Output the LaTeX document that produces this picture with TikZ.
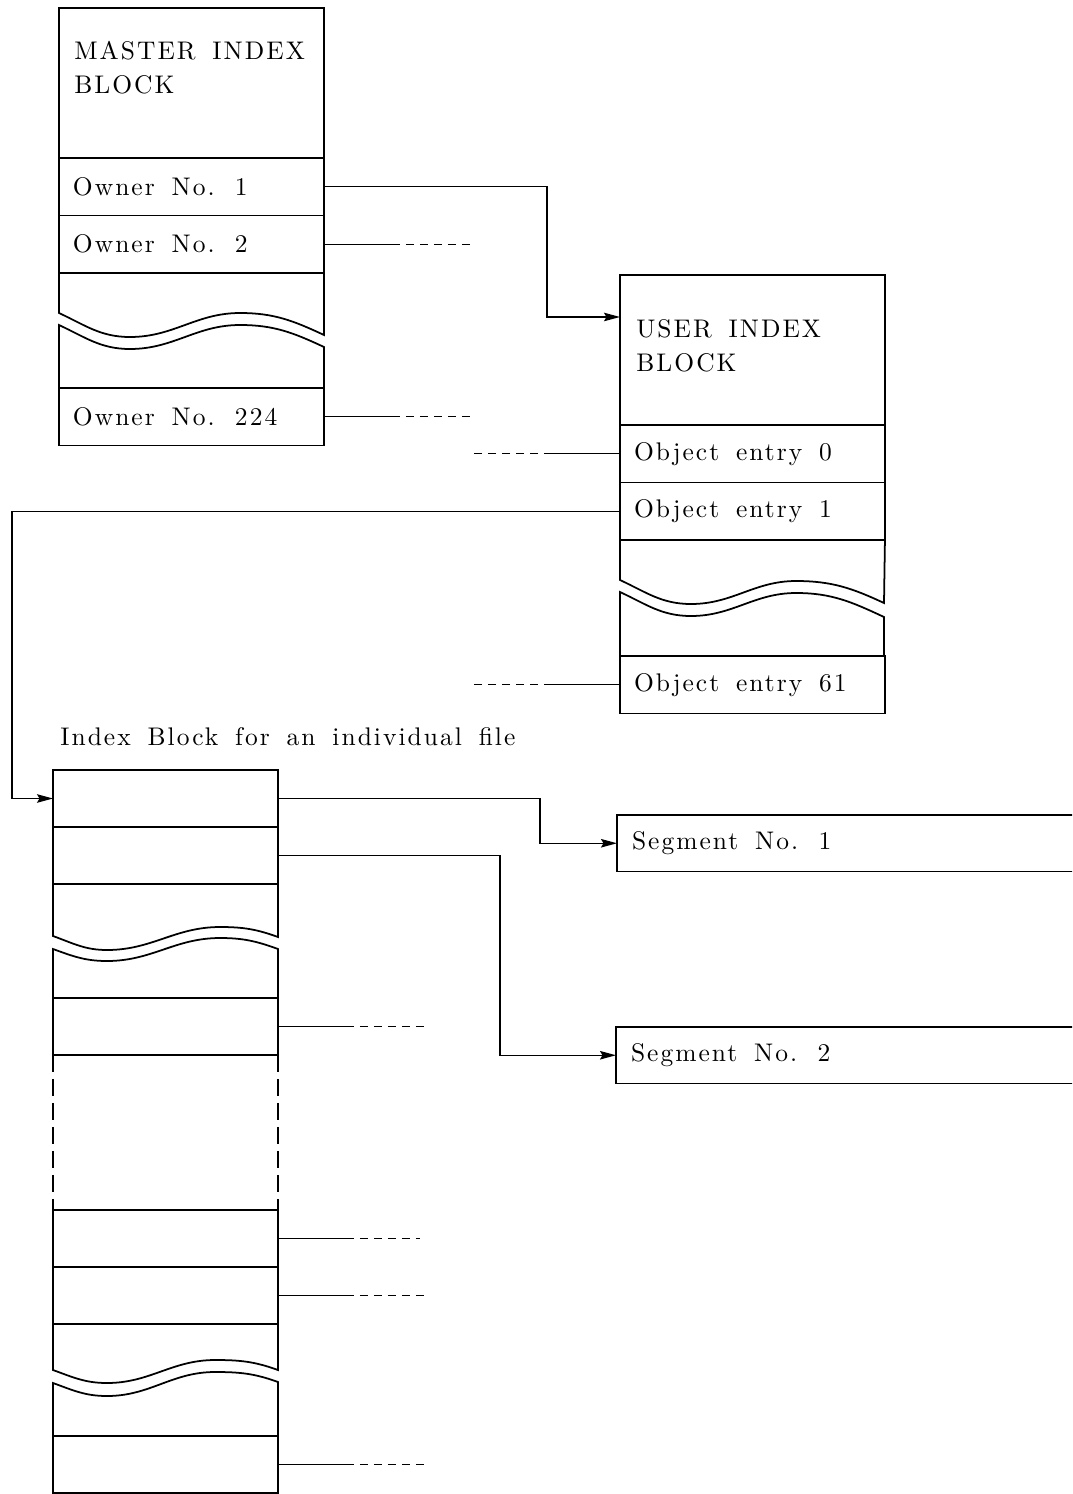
\documentclass[tikz,border=0pt]{standalone}
\usepackage{fontspec}
\setmainfont{lmroman10-regular}[Extension=.otf, LetterSpace=8, WordSpace=1.6]
\usetikzlibrary{arrows.meta, positioning}

\begin{document}
\begin{tikzpicture}[
    x=0.02cm, y=-0.02cm,
    every node/.style={font=\fontsize{14.5}{19.5}\selectfont},
    head/.style={draw, rectangle, line width=1pt, outer sep=0pt, anchor=north west, minimum width=5.3cm, minimum height=3cm},
    mrow/.style={draw, rectangle, line width=1pt, outer sep=0pt, anchor=north west, minimum height=1.15cm, inner xsep=0.28cm, inner ysep=0pt, text width=4.74cm, align=left, execute at begin node={\spaceskip=0pt\xspaceskip=0pt}},
    irow/.style={draw, rectangle, line width=1pt, outer sep=0pt, anchor=north west, minimum width=4.5cm, minimum height=1.14cm},
    seg/.style={draw, rectangle, line width=1pt, outer sep=0pt, anchor=north west, minimum height=1.13cm, inner xsep=0.3cm, inner ysep=0pt, text width=8.7cm, align=left, execute at begin node={\spaceskip=0pt\xspaceskip=0pt}},
    title/.style={anchor=north west, align=left, inner sep=0pt},
    brk/.style={line width=1pt},
    side/.style={line width=1pt, dash pattern=on 0.34cm off 0.14cm},
    stub/.style={line width=0.8pt, dash pattern=on 1.52cm off 0.12cm on 0.16cm off 0.12cm on 0.16cm off 0.12cm on 0.16cm off 0.12cm on 0.16cm off 0.12cm on 0.16cm off 5cm},
    arrow/.style={line width=0.8pt, -{Stealth[length=0.32cm, width=0.17cm, inset=0.05cm]}}
]
    \useasboundingbox (0,0) rectangle (1072,1494);
    \clip (0,0) rectangle (1072,1494);

    % Master index block
    \node[head] (master) at (59,8) {};
    \node[title] (mastertext) at (74,41) {MASTER INDEX\\BLOCK};
    \node[mrow, below=0pt of master] (owner1) {Owner No. 1};
    \node[mrow, below=0pt of owner1] (owner2) {Owner No. 2};
    \draw[brk] (owner2.south west) -- (59,313) to[out=-25,in=180] (130,337) to[out=0,in=180] (240,313) to[out=0,in=155] (324,335) -- (owner2.south east);
    \draw[brk] (59,388) -- (59,325) to[out=-25,in=180] (130,349) to[out=0,in=180] (240,325) to[out=0,in=155] (324,347) -- (324,388);
    \node[mrow] (owner224) at (59,388) {Owner No. 224};

    % User index block
    \node[head] (user) at (620,275) {};
    \node[title] (usertext) at (636,319) {USER INDEX\\BLOCK};
    \node[mrow, below=0pt of user] (obj0) {Object entry 0};
    \node[mrow, below=0pt of obj0] (obj1) {Object entry 1};
    \draw[brk] (obj1.south west) -- (620,580) to[out=-25,in=180] (691,604) to[out=0,in=180] (796,581) to[out=0,in=155] (884,603) -- (obj1.south east);
    \draw[brk] (620,656) -- (620,592) to[out=-25,in=180] (691,616) to[out=0,in=180] (796,593) to[out=0,in=155] (884,617) -- (884,656);
    \node[mrow] (obj61) at (620,656) {Object entry 61};

    % Index block for a file
    \node[anchor=base west, inner sep=0pt] (idxtext) at (60,745) {Index Block for an individual file};
    \node[irow] (row1) at (53,770) {};
    \node[irow, below=0pt of row1] (row2) {};
    \draw[brk] (row2.south west) -- (53,936) to[out=-20,in=180] (107,950) to[out=0,in=180] (220,927) to[out=0,in=160] (278,937) -- (row2.south east);
    \draw[brk] (53,998) -- (53,949) to[out=-20,in=180] (107,961) to[out=0,in=180] (220,938) to[out=0,in=160] (278,949) -- (278,998);
    \node[irow] (row3) at (53,998) {};
    \node[irow] (row4) at (53,1210) {};
    \draw[side] (row3.south west) -- (row4.north west);
    \draw[side] (row3.south east) -- (row4.north east);
    \node[irow, below=0pt of row4] (row5) {};
    \draw[brk] (row5.south west) -- (53,1370) to[out=-20,in=180] (107,1383) to[out=0,in=180] (215,1360) to[out=0,in=160] (278,1370) -- (row5.south east);
    \draw[brk] (53,1436) -- (53,1383) to[out=-20,in=180] (107,1396) to[out=0,in=180] (215,1372) to[out=0,in=160] (278,1382) -- (278,1436);
    \node[irow] (row6) at (53,1436) {};

    % Segments
    \node[seg] (seg1) at (617,815) {Segment No. 1};
    \node[seg] (seg2) at (616,1027) {Segment No. 2};

    % Pointers
    \draw[arrow] (owner1.east) -- ++(223,0) |- ([yshift=0.66cm]user.west);
    \draw[arrow] (obj1.west) -- ++(-608,0) |- (row1.west);
    \draw[arrow] (row1.east) -- ++(262,0) |- (seg1.west);
    \draw[arrow] (row2.east) -- ++(222,0) |- (seg2.west);

    % Unused entries
    \draw[stub] (owner2.east) -- ++(153,0);
    \draw[stub] (owner224.east) -- ++(150,0);
    \draw[stub] (obj0.west) -- ++(-148,0);
    \draw[stub] (obj61.west) -- ++(-152,0);
    \draw[stub] (row3.east) -- ++(148,0);
    \draw[stub] (row4.east) -- ++(142,0);
    \draw[stub] (row5.east) -- ++(148,0);
    \draw[stub] (row6.east) -- ++(148,0);

\end{tikzpicture}
\end{document}
